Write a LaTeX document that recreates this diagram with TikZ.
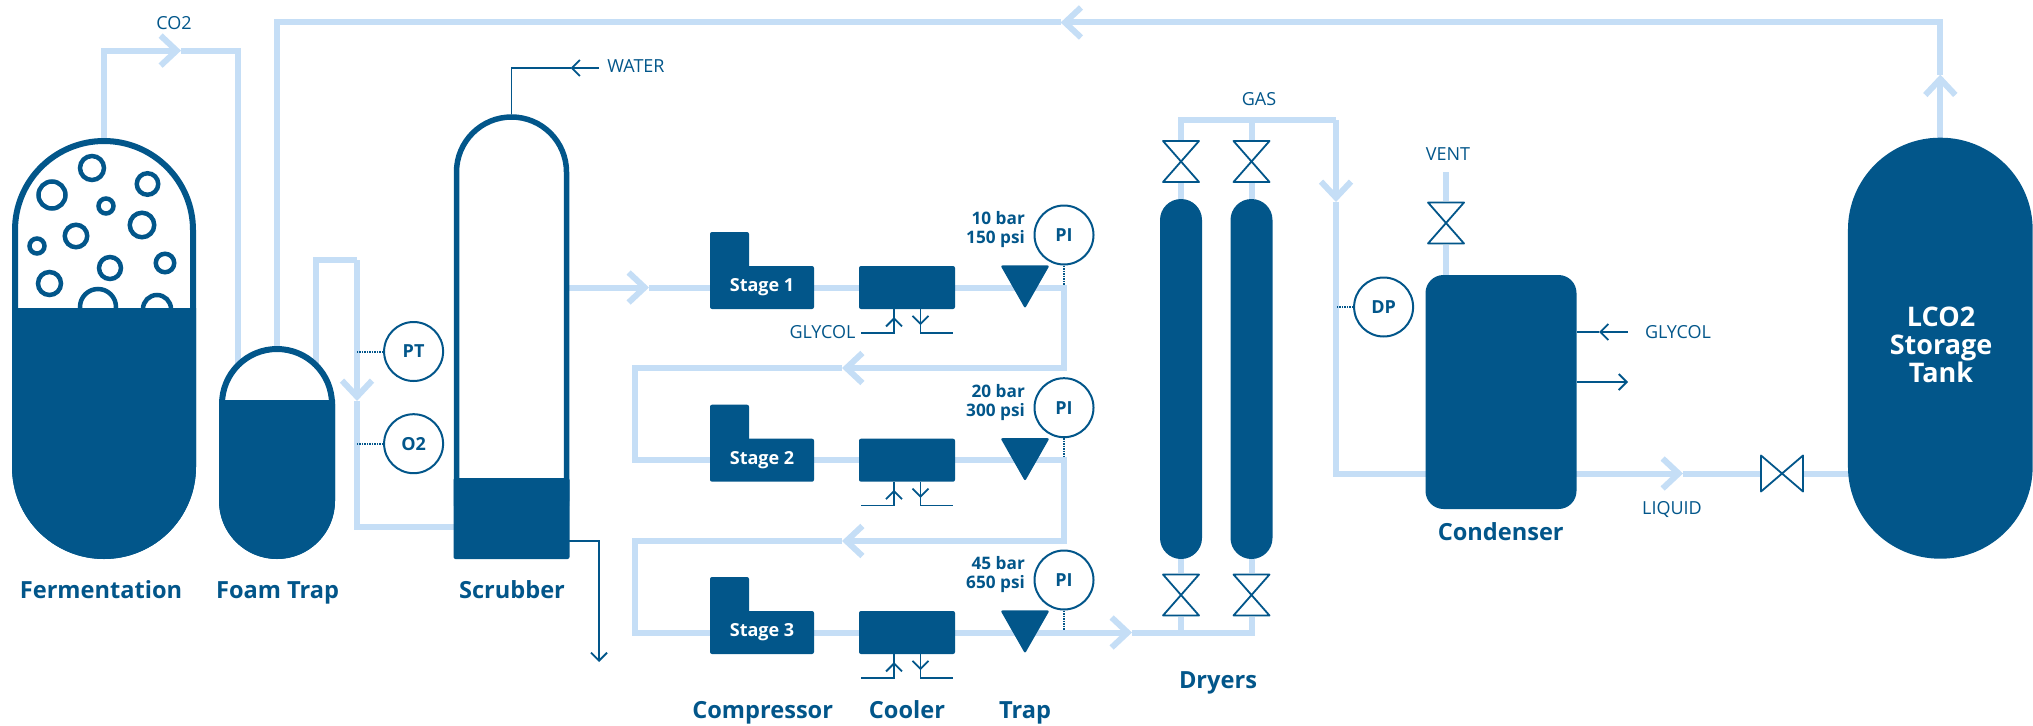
\documentclass[tikz,border=0pt]{standalone}
\usepackage{fontspec}
\setmainfont{Open Sans}
\usetikzlibrary{arrows.meta,backgrounds,shapes.geometric}
\definecolor{tankblue}{HTML}{02568A}
\definecolor{pipeblue}{HTML}{C5DEF6}
\begin{document}
\begin{tikzpicture}[x=1pt, y=-1pt]
    % Styles
    \tikzset{
        flow/.tip={Straight Barb[length=16pt, width=30pt]},
        feedtip/.tip={Straight Barb[length=8pt, width=16pt]},
        pipe/.style={draw=pipeblue, line width=6pt},
        feed/.style={draw=tankblue, line width=1.8pt},
        tap/.style={draw=tankblue, line width=2pt, dash pattern=on 1.5pt off 1pt},
        vessel/.style={rectangle, draw=tankblue, line width=6pt, fill=white, inner sep=0pt},
        solid/.style={rectangle, fill=tankblue, text=white, inner sep=0pt,
                      font=\bfseries\fontsize{18}{18}\selectfont},
        bubble/.style={circle, draw=tankblue, line width=4.5pt, inner sep=0pt},
        instr/.style={circle, draw=tankblue, line width=2pt, fill=white, inner sep=0pt,
                      minimum size=59pt, text=tankblue,
                      font=\bfseries\fontsize{18}{18}\selectfont},
        trap/.style={isosceles triangle, isosceles triangle stretches, shape border rotate=270,
                     fill=tankblue, rounded corners=2pt, inner sep=0pt, anchor=apex,
                     minimum width=49pt, minimum height=43pt},
        valve/.style={fill=white, inner sep=0pt, minimum width=38pt, minimum height=43pt,
                      path picture={\draw[feed, line join=round]
                          ([shift={(1pt,-1pt)}]path picture bounding box.north west)
                          -- ([shift={(-1pt,-1pt)}]path picture bounding box.north east)
                          -- ([shift={(1pt,1pt)}]path picture bounding box.south west)
                          -- ([shift={(-1pt,1pt)}]path picture bounding box.south east) -- cycle;}},
        valveh/.style={fill=white, inner sep=0pt, minimum width=44pt, minimum height=38pt,
                      path picture={\draw[feed, line join=round]
                          ([shift={(1pt,-1pt)}]path picture bounding box.north west)
                          -- ([shift={(1pt,1pt)}]path picture bounding box.south west)
                          -- ([shift={(-1pt,-1pt)}]path picture bounding box.north east)
                          -- ([shift={(-1pt,1pt)}]path picture bounding box.south east) -- cycle;}},
        title/.style={text=tankblue, inner sep=0pt, anchor=base,
                      font=\bfseries\fontsize{23.6}{23.6}\selectfont},
        tag/.style={text=tankblue, inner sep=0pt, anchor=base,
                    font=\fontsize{18}{18}\selectfont},
        pressure/.style={text=tankblue, inner sep=0pt, anchor=east, align=right,
                         font=\bfseries\fontsize{17.2}{19}\selectfont}
    }
    \useasboundingbox (0,0) rectangle (2033,725);

    % Fermentation
    \node[vessel, rounded corners=89pt, minimum width=178pt, minimum height=415pt] (ferm) at (104,348.5) {};
    \node[bubble, minimum size=24pt] (b1) at (92,168) {};
    \node[bubble, minimum size=27pt] (b2) at (52,195) {};
    \node[bubble, minimum size=21.5pt] (b3) at (147.5,184) {};
    \node[bubble, minimum size=15pt] (b4) at (106,206) {};
    \node[bubble, minimum size=24.5pt] (b5) at (142,225) {};
    \node[bubble, minimum size=22.5pt] (b6) at (76,236) {};
    \node[bubble, minimum size=15pt] (b7) at (37,246) {};
    \node[bubble, minimum size=18.5pt] (b8) at (165,263) {};
    \node[bubble, minimum size=22pt] (b9) at (110,268) {};
    \node[bubble, minimum size=23pt] (b10) at (49.5,283.5) {};
    \node[bubble, minimum size=36pt] (b11) at (98,307) {};
    \node[bubble, minimum size=28pt] (b12) at (157,309) {};
    \fill[tankblue] (12,308) -- (196,308) [rounded corners=92pt] -- (196,559) -- (12,559) [sharp corners] -- cycle;

    % Foam trap
    \node[vessel, rounded corners=55pt, minimum width=110pt, minimum height=207pt] (foam) at (277,452.5) {};
    \fill[tankblue] (219,400) -- (335,400) [rounded corners=58pt] -- (335,559) -- (219,559) [sharp corners] -- cycle;

    % Scrubber
    \node[vessel, line width=5.5pt, rounded corners=55pt, minimum width=110pt, minimum height=439pt] (scrub) at (511.5,336.5) {};
    \fill[tankblue, rounded corners=2pt] (453.5,478) rectangle (569.5,559);

    % Strumenti
    \node[instr] (pt) at (413.6,351.5) {PT};
    \node[instr] (otwo) at (413.6,443.7) {O2};
    \node[instr] (pia) at (1064,235) {PI};
    \node[instr] (pib) at (1064,407.7) {PI};
    \node[instr] (pic) at (1064,580) {PI};
    \node[instr] (dp) at (1383.6,307) {DP};

    % Compressors
    \node[solid, minimum width=104pt, minimum height=43pt, rounded corners=2pt] (stagea) at (762,287.5) {Stage 1};
    \node[solid, minimum width=39pt, minimum height=40pt, rounded corners=2pt] (stageatop) at (729.5,252) {};
    \node[solid, minimum width=104pt, minimum height=43pt, rounded corners=2pt] (stageb) at (762,460.2) {Stage 2};
    \node[solid, minimum width=39pt, minimum height=40pt, rounded corners=2pt] (stagebtop) at (729.5,424.7) {};
    \node[solid, minimum width=104pt, minimum height=43pt, rounded corners=2pt] (stagec) at (762,632.5) {Stage 3};
    \node[solid, minimum width=39pt, minimum height=40pt, rounded corners=2pt] (stagectop) at (729.5,597) {};

    % Coolers
    \node[solid, minimum width=96pt, minimum height=43pt, rounded corners=2pt] (coola) at (907,287.5) {};
    \node[solid, minimum width=96pt, minimum height=43pt, rounded corners=2pt] (coolb) at (907,460.2) {};
    \node[solid, minimum width=96pt, minimum height=43pt, rounded corners=2pt] (coolc) at (907,632.5) {};

    % Traps
    \node[trap] (trapa) at (1025,309) {};
    \node[trap] (trapb) at (1025,481.7) {};
    \node[trap] (trapc) at (1025,654) {};

    % Dryers
    \node[solid, rounded corners=21pt, minimum width=42pt, minimum height=360pt] (drya) at (1181,379) {};
    \node[solid, rounded corners=21pt, minimum width=42pt, minimum height=360pt] (dryb) at (1251.5,379) {};
    \node[valve] (vatop) at (1181,161.5) {};
    \node[valve] (vbtop) at (1251.5,161.5) {};
    \node[valve] (vabot) at (1181,595) {};
    \node[valve] (vbbot) at (1251.5,595) {};

    % Condenser
    \node[solid, rounded corners=18pt, minimum width=151pt, minimum height=234pt] (cond) at (1501,392) {};
    \node[valve] (vvent) at (1446,223) {};

    % Tank
    \node[solid, rounded corners=92pt, minimum width=184.7pt, minimum height=421pt] (tank) at (1940.3,348.2) {};
    \node[text=white, inner sep=0pt, align=center,
          font=\bfseries\fontsize{27}{28}\selectfont] (ltank) at (1941,345) {LCO2\\Storage\\Tank};
    \node[valveh] (vliq) at (1782,473.5) {};

    % Punti di linea
    \coordinate (co2tip) at (181,50.6);
    \coordinate (foamco2) at (238,400);
    \coordinate (toptip) at (1060.6,22.5);
    \coordinate (tanktip) at (1940.3,74.6);
    \coordinate (foamout) at (316,400);
    \coordinate (uturn) at (357,260);
    \coordinate (utip) at (357,401);
    \coordinate (scrubin) at (460,527);
    \coordinate (tipa) at (649,287.5);
    \coordinate (dropa) at (1064,368);
    \coordinate (tipb) at (842,368);
    \coordinate (turna) at (635,368);
    \coordinate (dropb) at (1064,541);
    \coordinate (tipc) at (842,541);
    \coordinate (turnb) at (635,541);
    \coordinate (tipd) at (1132,632.5);
    \coordinate (gasturn) at (1336,120);
    \coordinate (gastip) at (1336,202);
    \coordinate (condin) at (1440,473.5);
    \coordinate (liqtip) at (1683,473.5);
    \coordinate (ventend) at (1446,172.4);
    \coordinate (waterin) at (599,68);
    \coordinate (watertip) at (570.6,68);
    \coordinate (drainout) at (565,541);
    \coordinate (draintip) at (599,662);
    \coordinate (glycin) at (1627.5,332);
    \coordinate (glyctip) at (1599,332);
    \coordinate (glycout) at (1628,382);

    % Tubazioni
    \begin{scope}[on background layer]
        \draw[pipe, -flow] (ferm.north) |- (co2tip);
        \draw[pipe] (co2tip) -| (foamco2);
        \draw[pipe, -flow] (tank.north) -- (tanktip);
        \draw[pipe, -flow] (tanktip) |- (toptip);
        \draw[pipe] (toptip) -| (foam.north);
        \draw[pipe] (foamout) |- (uturn);
        \draw[pipe, -flow] (uturn) -- (utip);
        \draw[pipe] (utip) |- (scrubin);
        \draw[pipe, -flow] (scrub.east |- tipa) -- (tipa);
        \draw[pipe] (tipa) -- (stagea);
        \draw[pipe] (stagea) -- (coola);
        \draw[pipe, -flow] (coola.east) -| (dropa) -- (tipb);
        \draw[pipe] (tipb) -- (turna) |- (stageb.west);
        \draw[pipe] (stageb) -- (coolb);
        \draw[pipe, -flow] (coolb.east) -| (dropb) -- (tipc);
        \draw[pipe] (tipc) -- (turnb) |- (stagec.west);
        \draw[pipe] (stagec) -- (coolc);
        \draw[pipe, -flow] (coolc.east) -- (tipd);
        \draw[pipe] (tipd) -| (vbbot);
        \draw[pipe] (vabot) -- (vabot |- tipd);
        \draw[pipe] (drya) -- (vabot);
        \draw[pipe] (dryb) -- (vbbot);
        \draw[pipe] (drya) -- (vatop);
        \draw[pipe] (dryb) -- (vbtop);
        \draw[pipe] (vatop) |- (gasturn);
        \draw[pipe] (vbtop) -- (vbtop |- gasturn);
        \draw[pipe, -flow] (gasturn) -- (gastip);
        \draw[pipe] (gastip) |- (condin);
        \draw[pipe] (ventend) -- (vvent);
        \draw[pipe] (vvent) -- (vvent |- cond.north);
        \draw[pipe, -flow] (condin) -- (liqtip);
        \draw[pipe] (liqtip) -- (vliq);
        \draw[pipe] (vliq) -- (tank.center |- vliq);
    \end{scope}

    % Linee strumenti
    \draw[tap] (pt.west) -- (pt.west -| uturn);
    \draw[tap] (otwo.west) -- (otwo.west -| uturn);
    \draw[tap] (pia.south) -- ++(0,19);
    \draw[tap] (pib.south) -- ++(0,19);
    \draw[tap] (pic.south) -- ++(0,19);
    \draw[tap] (dp.west) -- (dp.west -| gasturn);

    % Acqua e glicole
    \draw[feed, -feedtip] (waterin) -- (watertip);
    \draw[feed] (watertip) -| (scrub.north);
    \draw[feed, -feedtip] (drainout) -| (draintip);
    \draw[feed, -feedtip] (glycin) -- (glyctip);
    \draw[feed] (glyctip) -- (cond.east |- glyctip);
    \draw[feed, -feedtip] (cond.east |- glycout) -- (glycout);

    \draw[feed] ([xshift=-13pt]coola.south) -- ++(0,23.5) -- ++(-33,0);
    \draw[feed, -feedtip] ([shift={(-13pt,-16pt)}]coola.south) -- ([shift={(-13pt,-8pt)}]coola.south);
    \draw[feed] ([xshift=13.5pt]coola.south) -- ++(0,23.5) -- ++(32.5,0);
    \draw[feed, -feedtip] ([shift={(13.5pt,-8pt)}]coola.south) -- ([shift={(13.5pt,-16pt)}]coola.south);
    \draw[feed] ([xshift=-13pt]coolb.south) -- ++(0,23.5) -- ++(-33,0);
    \draw[feed, -feedtip] ([shift={(-13pt,-16pt)}]coolb.south) -- ([shift={(-13pt,-8pt)}]coolb.south);
    \draw[feed] ([xshift=13.5pt]coolb.south) -- ++(0,23.5) -- ++(32.5,0);
    \draw[feed, -feedtip] ([shift={(13.5pt,-8pt)}]coolb.south) -- ([shift={(13.5pt,-16pt)}]coolb.south);
    \draw[feed] ([xshift=-13pt]coolc.south) -- ++(0,23.5) -- ++(-33,0);
    \draw[feed, -feedtip] ([shift={(-13pt,-16pt)}]coolc.south) -- ([shift={(-13pt,-8pt)}]coolc.south);
    \draw[feed] ([xshift=13.5pt]coolc.south) -- ++(0,23.5) -- ++(32.5,0);
    \draw[feed, -feedtip] ([shift={(13.5pt,-8pt)}]coolc.south) -- ([shift={(13.5pt,-16pt)}]coolc.south);

    % Titoli
    \node[title] (lferm) at (101,598) {Fermentation};
    \node[title] (lfoam) at (277.6,598) {Foam Trap};
    \node[title] (lscrub) at (512,598) {Scrubber};
    \node[title] (lcomp) at (762.7,718) {Compressor};
    \node[title] (lcool) at (907,718) {Cooler};
    \node[title] (ltrap) at (1025,718) {Trap};
    \node[title] (ldry) at (1218,688.6) {Dryers};
    \node[title] (lcond) at (1500.7,540) {Condenser};

    % Etichette
    \node[tag] (lco2) at (174,29.6) {CO2};
    \node[tag] (lwater) at (636,72) {WATER};
    \node[tag] (lgas) at (1259,105) {GAS};
    \node[tag] (lvent) at (1448,160) {VENT};
    \node[tag] (lglya) at (822.5,338) {GLYCOL};
    \node[tag] (lglyb) at (1678,338.7) {GLYCOL};
    \node[tag] (lliq) at (1672,514.7) {LIQUID};
    \node[pressure] (pa) at (1025,229.5) {10 bar\\150 psi};
    \node[pressure] (pb) at (1025,403) {20 bar\\300 psi};
    \node[pressure] (pc) at (1025,575) {45 bar\\650 psi};
\end{tikzpicture}
\end{document}
